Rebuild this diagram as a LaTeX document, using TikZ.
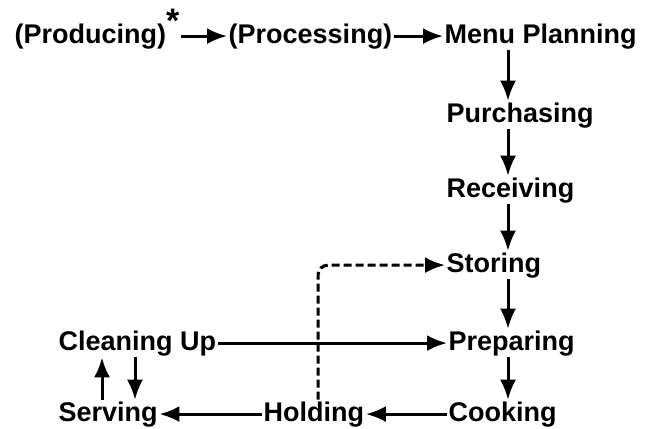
\documentclass[tikz,border=0pt]{standalone}
\usepackage{fontspec}
\setmainfont{Liberation Sans}
\usepackage{tikz}
\usetikzlibrary{calc,arrows.meta}

\begin{document}
\begin{tikzpicture}[x=1pt,y=-1pt,
    stage/.style={anchor=base west,inner sep=1.5pt,font=\bfseries\fontsize{27}{30}\selectfont},
    flow/.style={-{Latex[length=20pt,width=16pt]},line width=3pt},
    back/.style={flow,dash pattern=on 8pt off 4pt,rounded corners=10pt}]
                      \useasboundingbox (0,0) rectangle (649,429);
                      \node[stage](prod)at(13,43){(Producing)\smash{\raisebox{0.4em}{\fontsize{34}{34}\selectfont*}}};
                      \node[stage](proc)at(227,43){(Processing)};
                      \node[stage](menu)at(443,43){Menu Planning};
                      \node[stage](purch)at(445,122){Purchasing};
                      \node[stage](recv)at(445,197){Receiving};
                      \node[stage](stor)at(445,272){Storing};
                      \node[stage](prep)at(447,350){Preparing};
                      \node[stage](cook)at(447,421){Cooking};
                      \node[stage](hold)at(262,421){Holding};
                      \node[stage](serv)at(57,421){Serving};
                      \node[stage](clean)at(57,350){Cleaning Up};
                      \coordinate (vx) at (508,0);
                      \coordinate (dx) at (318,0);
                      \coordinate (ux) at (102,0);
                      \coordinate (wx) at (135,0);
                      \draw[flow](prod.east)--(prod.east-|proc.west);
                      \draw[flow](proc.east)--(menu.west);
                      \draw[flow](menu.south-|vx)--(purch.north-|vx);
                      \draw[flow](purch.south-|vx)--(recv.north-|vx);
                      \draw[flow](recv.south-|vx)--(stor.north-|vx);
                      \draw[flow](stor.south-|vx)--(prep.north-|vx);
                      \draw[flow](prep.south-|vx)--(cook.north-|vx);
                      \draw[flow](cook.west)--(hold.east);
                      \draw[flow](hold.west)--(serv.east);
                      \draw[flow](serv.north-|ux)--(clean.south-|ux);
                      \draw[flow](clean.south-|wx)--(serv.north-|wx);
                      \draw[flow](clean.east)--(clean.east-|prep.west);
                      \draw[back](hold.north-|dx)|-(stor.west);
                  \end{tikzpicture}
\end{document}
